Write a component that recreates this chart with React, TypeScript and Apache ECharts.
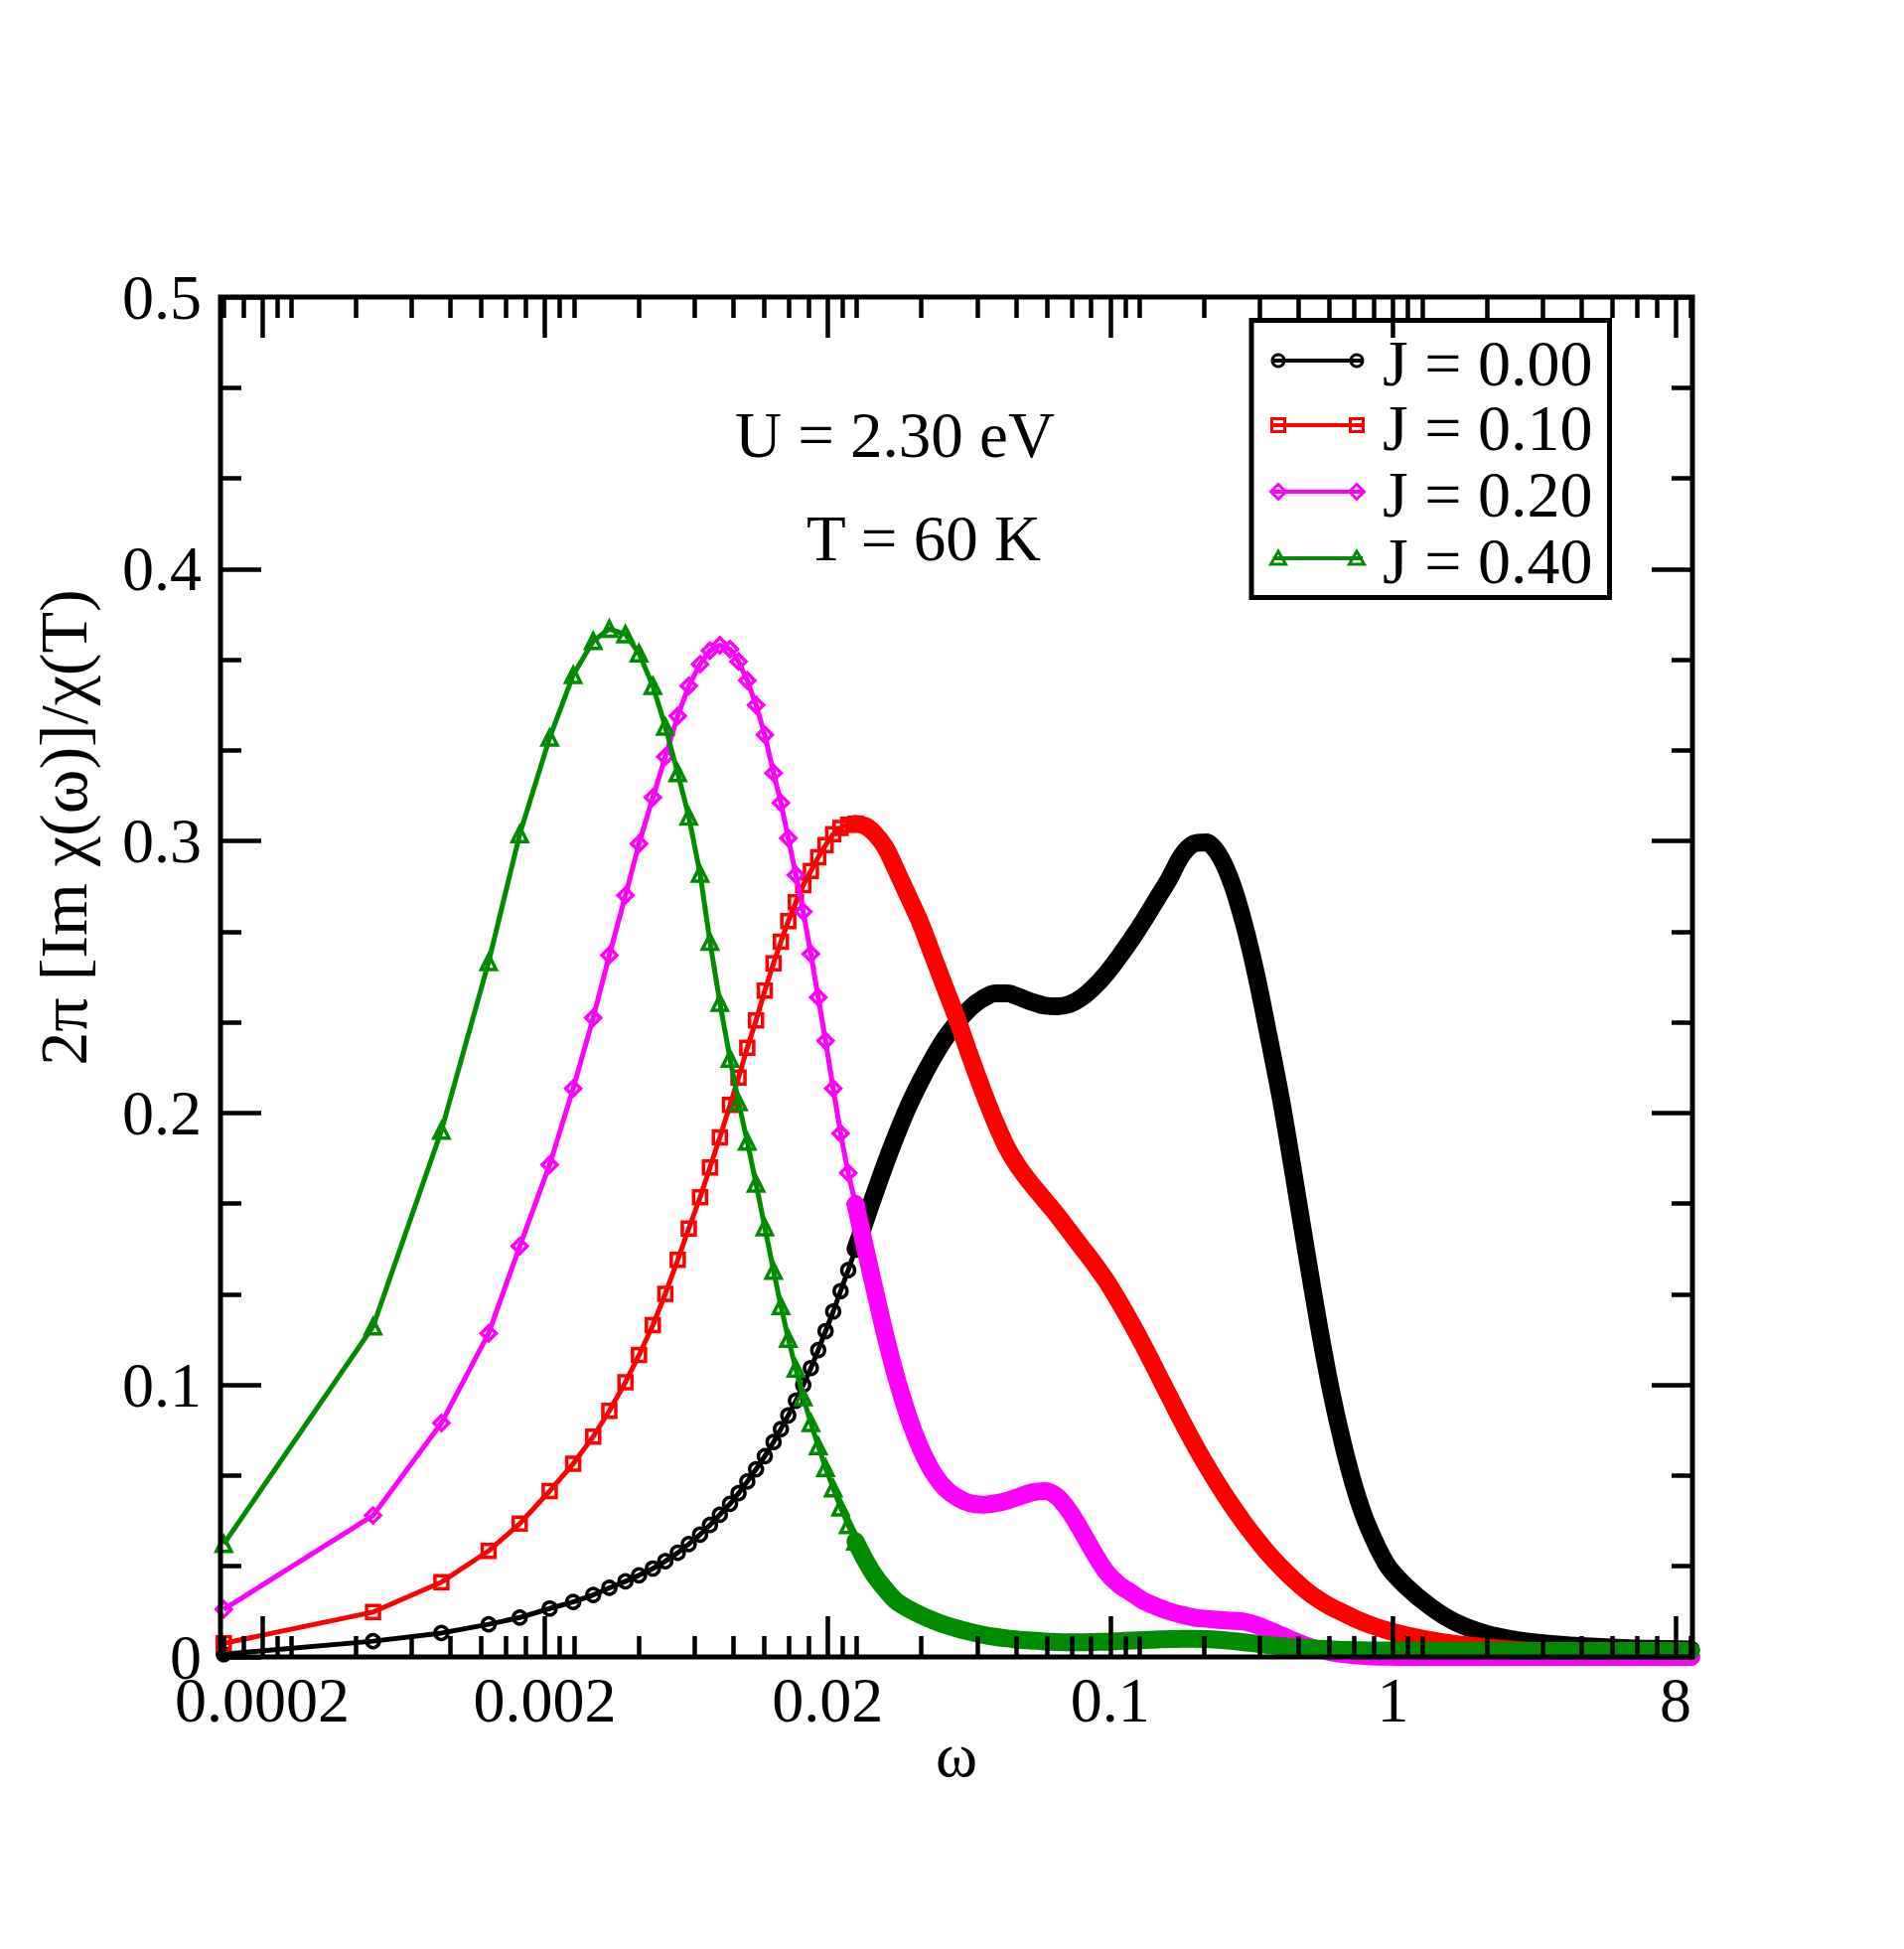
import React, { useEffect, useRef } from "react";
import * as echarts from "echarts";

// Axis position of each frequency sample (0 = "0.0002", 1 = "0.002", ... 5 = "8")
const X_POS = [
  -0.136, 0.392, 0.634, 0.801, 0.911, 1.017, 1.1, 1.171, 1.228, 1.285, 1.333, 1.382,
  1.426, 1.47, 1.509, 1.549, 1.584, 1.619, 1.655, 1.685, 1.716, 1.747, 1.778, 1.809,
  1.835, 1.861, 1.888, 1.914, 1.941, 1.967, 1.993, 2.02, 2.046, 2.073, 2.099, 2.134,
  2.169, 2.205, 2.24, 2.284, 2.328, 2.372, 2.416, 2.46, 2.504, 2.548, 2.592, 2.636,
  2.68, 2.724, 2.768, 2.812, 2.856, 2.9, 2.944, 2.988, 3.032, 3.076, 3.12, 3.164,
  3.208, 3.252, 3.296, 3.34, 3.384, 3.428, 3.472, 3.516, 3.559, 3.604, 3.648, 3.692,
  3.736, 3.779, 3.824, 3.868, 3.912, 3.978, 4.044, 4.132, 4.22, 4.33, 4.44, 4.571,
  4.703, 4.835, 4.967, 5.055,
];

const J_000 = [
  0.001, 0.0058, 0.0088, 0.012, 0.0145, 0.0178, 0.0202, 0.0228, 0.0254, 0.0278, 0.03, 0.0325,
  0.0352, 0.0383, 0.0415, 0.045, 0.0485, 0.0523, 0.0563, 0.0602, 0.0645, 0.069, 0.0738, 0.079,
  0.0838, 0.0888, 0.0942, 0.1, 0.1062, 0.1128, 0.1198, 0.127, 0.1345, 0.1422, 0.15, 0.1605,
  0.171, 0.1815, 0.191, 0.202, 0.2115, 0.22, 0.2275, 0.2335, 0.2385, 0.242, 0.244, 0.244,
  0.2425, 0.2408, 0.2395, 0.2392, 0.24, 0.2425, 0.2465, 0.2515, 0.2575, 0.264, 0.271, 0.2785,
  0.286, 0.2945, 0.299, 0.2995, 0.295, 0.285, 0.27, 0.251, 0.229, 0.205, 0.178, 0.15,
  0.123, 0.099, 0.078, 0.061, 0.048, 0.034, 0.0262, 0.0185, 0.0128, 0.0085, 0.0062, 0.0047,
  0.0038, 0.0032, 0.0029, 0.0027,
];

const J_010 = [
  0.005, 0.0165, 0.0275, 0.039, 0.049, 0.061, 0.071, 0.081, 0.0905, 0.101, 0.111, 0.122,
  0.1335, 0.146, 0.1575, 0.169, 0.18, 0.191, 0.203, 0.213, 0.224, 0.234, 0.245, 0.255,
  0.263, 0.2705, 0.2775, 0.2838, 0.289, 0.294, 0.2985, 0.3025, 0.3048, 0.306, 0.3063, 0.3055,
  0.3025, 0.2975, 0.29, 0.28, 0.27, 0.258, 0.246, 0.234, 0.221, 0.2085, 0.197, 0.187,
  0.1795, 0.1735, 0.168, 0.1625, 0.1565, 0.1505, 0.1445, 0.138, 0.1305, 0.1225, 0.114, 0.105,
  0.096, 0.087, 0.0785, 0.0705, 0.063, 0.056, 0.0495, 0.0435, 0.038, 0.033, 0.0285, 0.0245,
  0.0212, 0.0185, 0.0162, 0.014, 0.0121, 0.0098, 0.008, 0.0062, 0.0048, 0.0036, 0.0026, 0.0017,
  0.001, 0.0005, 0.0002, 0.0,
];

const J_020 = [
  0.0175, 0.052, 0.086, 0.119, 0.151, 0.181, 0.209, 0.235, 0.258, 0.28, 0.299, 0.316,
  0.331, 0.346, 0.357, 0.365, 0.37, 0.372, 0.3705, 0.366, 0.359, 0.35, 0.339, 0.325,
  0.314, 0.301, 0.2875, 0.274, 0.2585, 0.2425, 0.2265, 0.209, 0.1925, 0.178, 0.1665, 0.15,
  0.134, 0.118, 0.104, 0.089, 0.077, 0.068, 0.062, 0.0585, 0.0565, 0.056, 0.0565, 0.0575,
  0.059, 0.0605, 0.061, 0.059, 0.0535, 0.046, 0.038, 0.031, 0.0265, 0.0235, 0.0205, 0.0185,
  0.0168, 0.0155, 0.0145, 0.014, 0.0136, 0.0133, 0.013, 0.0118, 0.01, 0.008, 0.006, 0.0042,
  0.0028, 0.0018, 0.0011, 0.0006, 0.0003, 0.0001, 0.0, 0.0, 0.0, 0.0, 0.0, 0.0,
  0.0, 0.0, 0.0, 0.0,
];

const J_040 = [
  0.0415, 0.1215, 0.1935, 0.2555, 0.3025, 0.338, 0.361, 0.3735, 0.378, 0.376, 0.369, 0.357,
  0.342, 0.325, 0.309, 0.288, 0.263, 0.2405, 0.22, 0.204, 0.1895, 0.174, 0.158, 0.142,
  0.129, 0.117, 0.106, 0.0955, 0.086, 0.0775, 0.0695, 0.062, 0.055, 0.0485, 0.0425, 0.0355,
  0.0295, 0.0248, 0.0208, 0.0178, 0.0155, 0.0135, 0.0118, 0.0104, 0.0092, 0.0082, 0.0074, 0.0068,
  0.0063, 0.006, 0.0057, 0.0055, 0.0054, 0.0054, 0.0055, 0.0056, 0.0058, 0.006, 0.0062, 0.0064,
  0.0066, 0.0067, 0.0067, 0.0066, 0.0063, 0.0059, 0.0054, 0.0049, 0.0044, 0.004, 0.0036, 0.0033,
  0.003, 0.0028, 0.0026, 0.0025, 0.0024, 0.0024, 0.0024, 0.0023, 0.0023, 0.0023, 0.0022, 0.0022,
  0.0022, 0.0022, 0.0022, 0.0022,
];

const SERIES_NAMES = ["J = 0.00", "J = 0.10", "J = 0.20", "J = 0.40"];
const SERIES_VALUES = [J_000, J_010, J_020, J_040];
const SERIES_COLORS = ["#000000", "#ff0000", "#ff00ff", "#008b00"];
const SERIES_SYMBOLS = ["circle", "rect", "diamond", "triangle"];
const SERIES_SYMBOL_SIZES = [13, 13, 15, 15];

const X_TICK_VALUES = [0, 1, 2, 3, 4, 5];
const X_TICK_LABELS = ["0.0002", "0.002", "0.02", "0.1", "1", "8"];
const X_MINOR_OFFSETS = [0.0527, 0.1037, 0.332, 0.529, 0.666, 0.775, 0.863, 0.933];
const X_MIN = -0.1476;
const X_MAX = 5.0597;
const Y_MIN = 0;
const Y_MAX = 0.5;
const Y_INTERVAL = 0.1;

const ANNOTATIONS = ["U = 2.30 eV", "T = 60 K"];
const Y_TITLE = "2\u03c0 [Im \u03c7(\u03c9)]/\u03c7(T)";
const X_TITLE = "\u03c9";

// index from which the densely sampled markers merge into a solid band
const BAND_FROM = 34;

const FONT = "'Liberation Serif', 'Times New Roman', serif";

export default function App() {
  const ref = useRef<HTMLDivElement>(null);

  useEffect(() => {
    if (!ref.current) return;
    const chart = echarts.init(ref.current, null, { renderer: "svg" });

    const minorTicks: number[] = [];
    for (let k = -1; k <= 5; k++) {
      for (const off of X_MINOR_OFFSETS) {
        const v = k + off;
        if (v > X_MIN && v < X_MAX) minorTicks.push(+v.toFixed(4));
      }
    }

    const tickStyle = { color: "#000", width: 4.5 };
    const baseX = {
      type: "value",
      min: X_MIN,
      max: X_MAX,
      z: 6,
      axisLine: { show: false, onZero: false },
      splitLine: { show: false },
    };
    const xAxes = [
      {
        ...baseX,
        position: "bottom",
        axisTick: { show: true, inside: true, length: 41, lineStyle: tickStyle, customValues: X_TICK_VALUES },
        axisLabel: {
          show: true,
          customValues: X_TICK_VALUES,
          formatter: (v: number) => X_TICK_LABELS[Math.round(v)] ?? "",
          fontSize: 64,
          fontFamily: FONT,
          color: "#000",
          margin: 21,
          lineHeight: 44,
        },
        name: X_TITLE,
        nameLocation: "middle",
        nameGap: 66,
        nameMoveOverlap: false,
        nameTextStyle: { fontSize: 64, fontFamily: FONT, color: "#000" },
      },
      {
        ...baseX,
        position: "bottom",
        axisTick: { show: true, inside: true, length: 21, lineStyle: tickStyle, customValues: minorTicks },
        axisLabel: { show: false },
      },
      {
        ...baseX,
        position: "top",
        axisTick: { show: true, inside: true, length: 41, lineStyle: tickStyle, customValues: X_TICK_VALUES },
        axisLabel: { show: false },
      },
      {
        ...baseX,
        position: "top",
        axisTick: { show: true, inside: true, length: 21, lineStyle: tickStyle, customValues: minorTicks },
        axisLabel: { show: false },
      },
    ];

    const baseY = {
      type: "value",
      min: Y_MIN,
      max: Y_MAX,
      interval: Y_INTERVAL,
      z: 6,
      axisLine: { show: false, onZero: false },
      splitLine: { show: false },
      axisTick: { show: true, inside: true, length: 41, lineStyle: tickStyle },
      minorTick: { show: true, splitNumber: 3, length: 21, lineStyle: tickStyle },
    };
    const yAxes = [
      {
        ...baseY,
        position: "left",
        axisLabel: { show: true, fontSize: 64, fontFamily: FONT, color: "#000", margin: 19, lineHeight: 40 },
      },
      { ...baseY, position: "right", axisLabel: { show: false } },
    ];

    const series: any[] = [];
    SERIES_VALUES.forEach((vals, i) => {
      const data = X_POS.map((x, j) => [x, vals[j]]);
      const color = SERIES_COLORS[i];
      const size = SERIES_SYMBOL_SIZES[i];
      series.push({
        type: "line",
        name: SERIES_NAMES[i],
        data: data.slice(0, BAND_FROM + 1),
        symbol: SERIES_SYMBOLS[i],
        symbolSize: size,
        showSymbol: true,
        showAllSymbol: true,
        lineStyle: { color, width: 5 },
        itemStyle: { color: "rgba(0,0,0,0)", borderColor: color, borderWidth: 3.5 },
        emphasis: { disabled: true },
        z: 2 + i * 0.1,
      });
      series.push({
        type: "line",
        name: SERIES_NAMES[i] + " band",
        data: data.slice(BAND_FROM),
        symbol: "none",
        smooth: 0.3,
        lineStyle: { color, width: 18, join: "round", cap: "round" },
        emphasis: { disabled: true },
        z: 2 + i * 0.1 + 0.05,
      });
    });

    // legend box drawn like the reference (line with a marker at each end)
    const legendRowsY = [363, 428, 495, 562];
    const legendChildren: any[] = [
      {
        type: "rect",
        shape: { x: 1260, y: 322.5, width: 360.5, height: 279 },
        style: { fill: "#fff", stroke: "#000", lineWidth: 5 },
      },
    ];
    const markerAt = (kind: string, cx: number, cy: number, color: string) => {
      const style = { fill: "none", stroke: color, lineWidth: 3 };
      if (kind === "circle") return { type: "circle", shape: { cx, cy, r: 6 }, style };
      if (kind === "rect") return { type: "rect", shape: { x: cx - 6.5, y: cy - 6.5, width: 13, height: 13 }, style };
      if (kind === "diamond")
        return { type: "polygon", shape: { points: [[cx, cy - 7.5], [cx + 7.5, cy], [cx, cy + 7.5], [cx - 7.5, cy]] }, style };
      return { type: "polygon", shape: { points: [[cx, cy - 7], [cx + 7.5, cy + 6], [cx - 7.5, cy + 6]] }, style };
    };
    SERIES_NAMES.forEach((name, i) => {
      const y = legendRowsY[i];
      const c = SERIES_COLORS[i];
      legendChildren.push({
        type: "line",
        shape: { x1: 1282, y1: y, x2: 1372, y2: y },
        style: { stroke: c, lineWidth: 4 },
      });
      legendChildren.push(markerAt(SERIES_SYMBOLS[i], 1287, y, c));
      legendChildren.push(markerAt(SERIES_SYMBOLS[i], 1366, y, c));
      legendChildren.push({
        type: "text",
        x: 1392,
        y: y + 2,
        style: {
          text: name,
          fontSize: 66,
          lineHeight: 54,
          fontFamily: FONT,
          fill: "#000",
          align: "left",
          verticalAlign: "middle",
        },
      });
    });

    const option: any = {
      animation: false,
      backgroundColor: "#fff",
      textStyle: { fontFamily: FONT },
      grid: {
        left: 222,
        top: 299,
        width: 1482,
        height: 1369,
        show: true,
        borderColor: "#000",
        borderWidth: 5,
        backgroundColor: "transparent",
        containLabel: false,
        outerBoundsMode: "none",
        z: 6,
      },
      xAxis: xAxes,
      yAxis: yAxes,
      series,
      graphic: [
        {
          type: "text",
          x: 64,
          y: 833,
          rotation: Math.PI / 2,
          style: { text: Y_TITLE, fontSize: 68, fontFamily: FONT, fill: "#000", align: "center", verticalAlign: "middle" },
        },
        {
          type: "text",
          x: 740,
          y: 438,
          style: { text: ANNOTATIONS[0], fontSize: 65, fontFamily: FONT, fill: "#000", align: "left", verticalAlign: "middle" },
        },
        {
          type: "text",
          x: 812,
          y: 541.5,
          style: { text: ANNOTATIONS[1], fontSize: 65, fontFamily: FONT, fill: "#000", align: "left", verticalAlign: "middle" },
        },
        { type: "group", z: 100, children: legendChildren },
      ],
    };

    chart.setOption(option);
    return () => chart.dispose();
  }, []);

  return (
    <div
      ref={ref}
      style={{ position: "absolute", left: 0, top: 0, width: 1917, height: 1962, background: "#fff" }}
    />
  );
}
